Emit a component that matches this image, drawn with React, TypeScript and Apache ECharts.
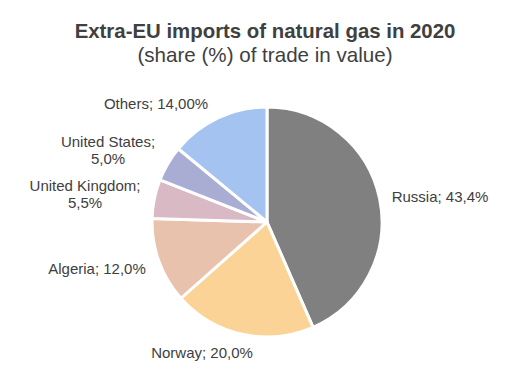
import React, { useEffect, useRef } from "react";
import * as echarts from "echarts";

const categories = ["Russia", "Norway", "Algeria", "United Kingdom", "United States", "Others"];
const values = [43.4, 20.0, 12.0, 5.5, 5.0, 14.0];
const valueLabels = ["43,4%", "20,0%", "12,0%", "5,5%", "5,0%", "14,00%"];
const labelNames = ["Russia;", "Norway;", "Algeria;", "United Kingdom;\n", "United States;\n", "Others;"];
const colors = ["#808080", "#FCD396", "#E9C2AD", "#D9BAC4", "#A9ADD4", "#A4C3F1"];
const labelPos: [number, number][] = [
  [440, 196],
  [202, 352],
  [97, 268],
  [85, 194],
  [108, 150],
  [156, 103],
];
const FONT = "Arial, 'Liberation Sans', sans-serif";

export default function App() {
  const ref = useRef<HTMLDivElement>(null);
  useEffect(() => {
    document.body.style.margin = "0";
    const chart = echarts.init(ref.current!, null, { renderer: "svg" });
    chart.setOption({
      animation: false,
      backgroundColor: "#ffffff",
      title: {
        text: "Extra-EU imports of natural gas in 2020",
        subtext: "(share (%) of trade in value)",
        left: "center",
        top: 16,
        itemGap: 3,
        textStyle: { fontFamily: FONT, fontSize: 20.4, fontWeight: "bold", color: "#404040" },
        subtextStyle: { fontFamily: FONT, fontSize: 20.6, color: "#404040" },
      },
      series: [
        {
          type: "pie",
          center: [267, 222],
          radius: [0, 115],
          startAngle: 90,
          clockwise: true,
          data: categories.map((c, i) => ({
            name: c,
            value: values[i],
            itemStyle: { color: colors[i] },
            label: { formatter: labelNames[i] + (labelNames[i].endsWith("\n") ? "" : " ") + valueLabels[i] },
          })),
          itemStyle: { borderColor: "#ffffff", borderWidth: 3 },
          label: {
            show: true,
            position: "outside",
            fontFamily: FONT,
            fontSize: 15,
            color: "#404040",
            lineHeight: 17,
            align: "center",
            overflow: "none",
            width: 200,
          },
          labelLine: { show: false },
          labelLayout: (params: any) => {
            const p = labelPos[params.dataIndex];
            return { x: p[0], y: p[1], align: "center", verticalAlign: "middle" };
          },
        },
      ],
    });
    return () => chart.dispose();
  }, []);
  return <div ref={ref} style={{ width: 530, height: 388, position: "absolute", left: 0, top: 0 }} />;
}
